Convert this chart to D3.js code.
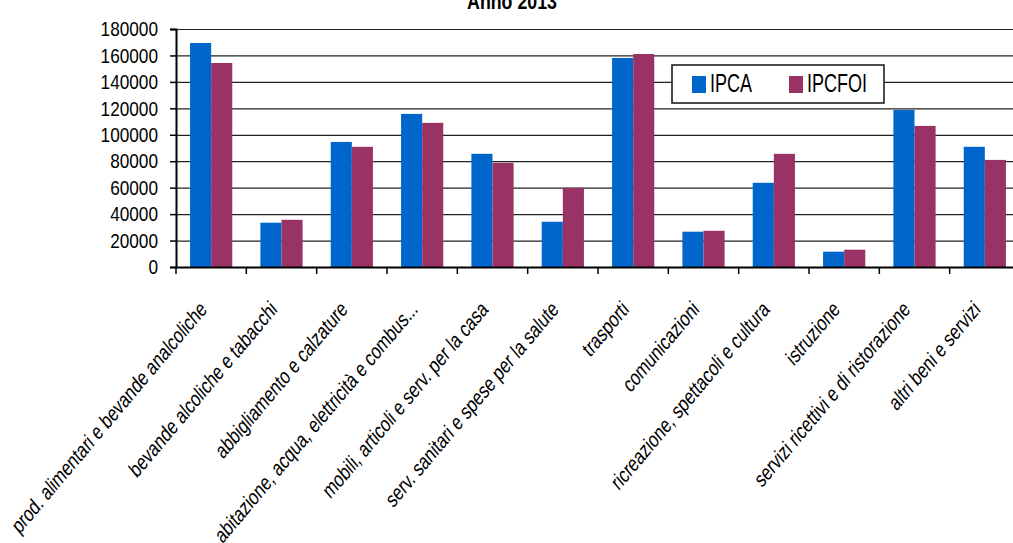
<!DOCTYPE html>
<html>
<head>
<meta charset="utf-8">
<script src="https://cdn.jsdelivr.net/npm/d3@7"></script>
<style>
  body { margin: 0; background: #fff; }
  text { font-family: 'Liberation Sans', Arial, sans-serif; fill: #000; }
  .grid line { stroke: #222; stroke-width: 1.2; }
  .grid path { display: none; }
</style>
</head>
<body>
<main></main>
<script>
// categorie di spesa
const categories = [
  'prod. alimentari e bevande analcoliche',
  'bevande alcoliche e tabacchi',
  'abbigliamento e calzature',
  'abitazione, acqua, elettricità e combus...',
  'mobili, articoli e serv. per la casa',
  'serv. sanitari e spese per la salute',
  'trasporti',
  'comunicazioni',
  'ricreazione, spettacoli e cultura',
  'istruzione',
  'servizi ricettivi e di ristorazione',
  'altri beni e servizi'
];

const ipca = [169400, 33500, 94600, 115800, 85600, 34200, 158100, 26700, 63700, 11600, 118800, 90900];
const ipcfoi = [154300, 35700, 90900, 109000, 78800, 59900, 161100, 27400, 85600, 13100, 106700, 81000];

const seriesNames = ['IPCA', 'IPCFOI'];
const seriesColors = ['#0066cc', '#993366'];
const yTicks = [0, 20000, 40000, 60000, 80000, 100000, 120000, 140000, 160000, 180000];

const width = 1013;
const height = 543;
const plotLeft = 176;
const plotRight = 1020;
const plotTop = 29;
const plotBottom = 267;
const narrow = 0.82; // testo stretto come nel grafico originale

const rows = categories.map((c, i) => ({ cat: c, values: [ipca[i], ipcfoi[i]] }));

const svg = d3
  .select('main')
  .append('svg')
  .attr('width', width)
  .attr('height', height);

const x = d3.scaleBand().domain(categories).range([plotLeft, plotRight]).padding(0);
const xInner = d3
  .scaleBand()
  .domain(seriesNames)
  .range([x.bandwidth() * 0.2, x.bandwidth() * 0.8]);
const y = d3.scaleLinear().domain([0, 180000]).range([plotBottom, plotTop]);

// gridlines
svg
  .append('g')
  .attr('class', 'grid')
  .attr('transform', `translate(${plotLeft}, 0)`)
  .call(d3.axisLeft(y).tickValues(yTicks.slice(1)).tickSize(-(width - plotLeft)).tickFormat(''));

// bars
const groups = svg
  .selectAll('.cat')
  .data(rows)
  .enter()
  .append('g')
  .attr('transform', d => `translate(${x(d.cat)}, 0)`);

groups
  .selectAll('rect')
  .data(d => d.values.map((v, i) => ({ key: seriesNames[i], value: v, color: seriesColors[i] })))
  .enter()
  .append('rect')
  .attr('x', d => xInner(d.key))
  .attr('y', d => y(d.value))
  .attr('width', xInner.bandwidth())
  .attr('height', d => y(0) - y(d.value))
  .attr('fill', d => d.color);

// y axis
const yAxis = svg
  .append('g')
  .attr('transform', `translate(${plotLeft}, 0)`)
  .call(d3.axisLeft(y).tickValues(yTicks).tickSize(6).tickFormat(d3.format('d')));
yAxis.attr('font-family', null).attr('font-size', null);
yAxis.select('.domain').attr('stroke', '#000').attr('stroke-width', 2);
yAxis.selectAll('.tick line').attr('stroke', '#000').attr('stroke-width', 1.5);
yAxis
  .selectAll('.tick text')
  .attr('x', 0)
  .attr('transform', `translate(-18, 0) scale(${narrow}, 1)`)
  .attr('font-size', 21);

// x axis
const xAxis = svg
  .append('g')
  .attr('transform', `translate(0, ${plotBottom})`)
  .call(d3.axisBottom(x).tickSize(0).tickFormat(''));
xAxis.select('.domain').attr('stroke', '#000').attr('stroke-width', 2.2);

svg
  .append('g')
  .selectAll('line')
  .data(categories)
  .enter()
  .append('line')
  .attr('x1', d => x(d))
  .attr('x2', d => x(d))
  .attr('y1', plotBottom)
  .attr('y2', plotBottom + 7)
  .attr('stroke', '#000')
  .attr('stroke-width', 1.5);

// etichette ruotate
svg
  .append('g')
  .selectAll('text')
  .data(categories)
  .enter()
  .append('text')
  .attr('transform', d => `translate(${x(d) + x.bandwidth() / 2 - 8}, 305) scale(1, 1.19) rotate(-45) scale(${narrow}, 1)`)
  .attr('text-anchor', 'end')
  .attr('dy', '0.35em')
  .attr('font-size', 19)
  .text(d => d);

// titolo
svg
  .append('text')
  .attr('transform', `translate(512, 9) scale(${narrow}, 1)`)
  .attr('text-anchor', 'middle')
  .attr('font-size', 21.7)
  .attr('font-weight', 'bold')
  .text('Anno 2013');

// legenda
const legend = svg.append('g').attr('transform', 'translate(672, 65)');
legend
  .append('rect')
  .attr('width', 212)
  .attr('height', 38)
  .attr('fill', '#fff')
  .attr('stroke', '#111')
  .attr('stroke-width', 1.5);

const legendX = [20, 117];
seriesNames.forEach((s, i) => {
  legend
    .append('rect')
    .attr('x', legendX[i])
    .attr('y', 11)
    .attr('width', 14)
    .attr('height', 17)
    .attr('fill', seriesColors[i]);
  legend
    .append('text')
    .attr('transform', `translate(${legendX[i] + 18}, 27) scale(${narrow}, 1.19)`)
    .attr('font-size', 22)
    .text(s);
});
</script>
</body>
</html>
